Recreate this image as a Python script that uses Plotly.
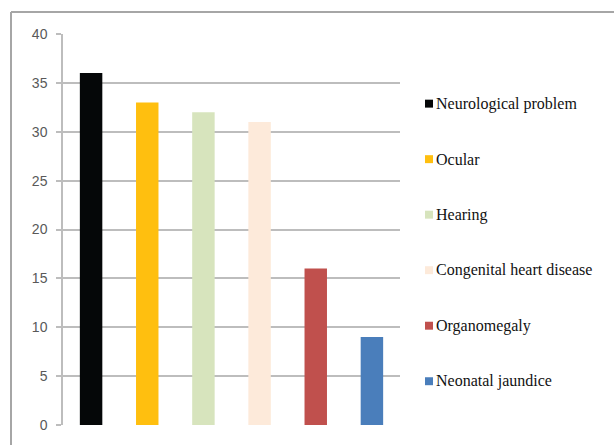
import plotly.graph_objects as go

categories = ["Neurological problem", "Ocular", "Hearing",
              "Congenital heart disease", "Organomegaly", "Neonatal jaundice"]
values = [36, 33, 32, 31, 16, 9]
colors = ["#050708", "#FFBF0F", "#D7E4BD", "#FDEADA", "#C0504D", "#4A7EBB"]
y_ticks = [0, 5, 10, 15, 20, 25, 30, 35, 40]

W, H = 614, 445
L, R, T, B = 63, 214, 34, 18
pw, ph = W - L - R, H - T - B

def px_x(p):
    return (p - L) / pw

def px_y(p):
    return 1 - (p - T) / ph

fig = go.Figure()
fig.add_trace(go.Bar(
    x=categories, y=values,
    marker=dict(color=colors, line=dict(width=0)),
    showlegend=False,
))

# outer frame (top and left edges)
fig.add_shape(type="line", xref="paper", yref="paper",
              x0=px_x(11), x1=px_x(W + 5), y0=px_y(12), y1=px_y(12),
              line=dict(color="#A6A6A6", width=2))
fig.add_shape(type="line", xref="paper", yref="paper",
              x0=px_x(11), x1=px_x(11), y0=px_y(12), y1=px_y(H + 5),
              line=dict(color="#A6A6A6", width=2))

# manual legend
legend_top, legend_step = 104, 55.8
for i, (name, c) in enumerate(zip(categories, colors)):
    yc = legend_top + i * legend_step
    fig.add_shape(type="rect", xref="paper", yref="paper",
                  x0=px_x(425), x1=px_x(433), y0=px_y(yc - 4), y1=px_y(yc + 4),
                  fillcolor=c, line=dict(width=0))
    fig.add_annotation(
        xref="paper", yref="paper",
        x=px_x(434), y=px_y(yc),
        xanchor="left", yanchor="middle", showarrow=False,
        text=name,
        font=dict(family="Liberation Serif", size=16, color="#111111"),
    )

fig.update_layout(
    width=W, height=H,
    margin=dict(l=L, r=R, t=T, b=B),
    paper_bgcolor="white", plot_bgcolor="white",
    bargap=0.6,
    xaxis=dict(showticklabels=False, showgrid=False, zeroline=False,
               showline=False, ticks=""),
    yaxis=dict(range=[0, 40], tickvals=y_ticks, showgrid=True,
               gridcolor="#BDBDBD", gridwidth=1.5, zeroline=False,
               showline=True, linecolor="#BDBDBD", linewidth=1.5,
               ticks="outside", ticklen=5, tickcolor="#BDBDBD", tickwidth=1.5,
               ticklabelstandoff=6,
               tickfont=dict(family="Liberation Sans", size=14, color="#595959")),
)

fig.write_html("out.html")
